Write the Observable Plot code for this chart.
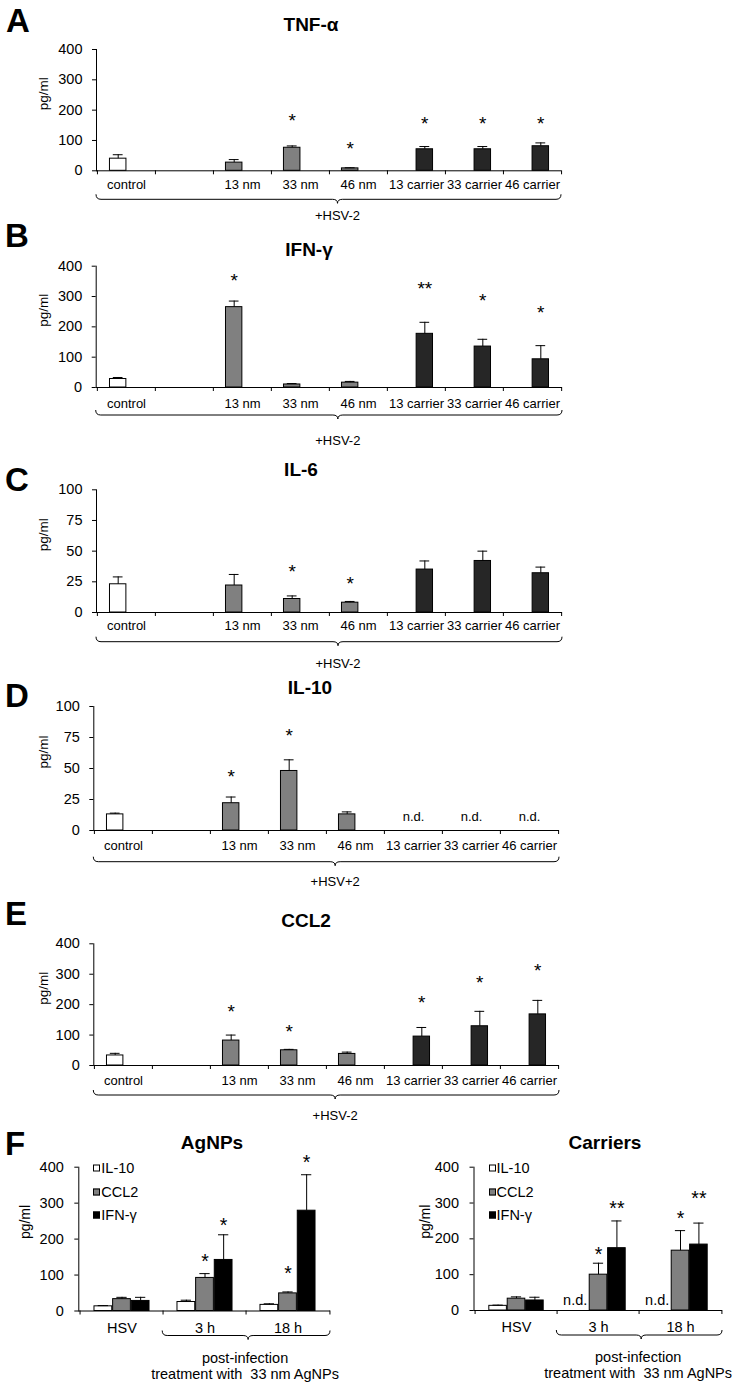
<!DOCTYPE html>
<html>
<head>
<meta charset="utf-8">
<script src="https://cdn.jsdelivr.net/npm/d3@7"></script>
<script src="https://cdn.jsdelivr.net/npm/@observablehq/plot@0.6"></script>
<style>
  html, body { margin: 0; padding: 0; background: #fff; }
  #fig { position: relative; width: 745px; height: 1386px; overflow: hidden; font-family: "Liberation Sans", Arial, Helvetica, sans-serif; color: #000; }
  .letter { font-weight: bold; font-size: 33px; line-height: 33px; }
  .title { font-weight: bold; font-size: 19px; line-height: 1.15; transform: translate(-50%, -50%); white-space: nowrap; }
  .leg { font-size: 14.5px; line-height: 1.15; white-space: nowrap; transform: translateY(-50%); }
  .swatch { width: 7px; height: 7px; border: 1px solid #000; box-sizing: border-box; transform: translateY(-50%); }
</style>
</head>
<body>
<div id="fig"></div>
<script>
// ---------- data ----------
const categories = ["control", "", "13 nm", "33 nm", "46 nm", "13 carrier", "33 carrier", "46 carrier"];
const treatment  = ["control", "none", "AgNPs", "AgNPs", "AgNPs", "carrier", "carrier", "carrier"];
const ticks400 = [0, 100, 200, 300, 400];
const ticks100 = [0, 25, 50, 75, 100];

// A: TNF-alpha
const tnfMean = [40, null, 27, 76, 8, 71, 71, 81];
const tnfErr  = [13, null, 10, 6, 2, 9, 9, 11];
const tnfSig  = ["", "", "", "*", "*", "*", "*", "*"];
const tnfSigY = [null, null, null, 182, 89, 171, 171, 171];

// B: IFN-gamma
const ifnMean = [28, null, 265, 10, 16, 177, 135, 93];
const ifnErr  = [5, null, 20, 3, 4, 38, 24, 45];
const ifnSig  = ["", "", "*", "", "", "**", "*", "*"];
const ifnSigY = [null, null, 369, null, null, 342, 303, 263];

// C: IL-6
const il6Mean = [23, null, 22, 11, 8, 35, 42, 32];
const il6Err  = [6, null, 9, 2.5, 1, 7, 8, 5];
const il6Sig  = ["", "", "", "*", "*", "", "", ""];
const il6SigY = [null, null, null, 37, 27.5, null, null, null];

// D: IL-10
const il10Mean = [13, null, 22, 48, 13, null, null, null];
const il10Err  = [1, null, 5, 9, 2, null, null, null];
const il10Sig  = ["", "", "*", "*", "", "", "", ""];
const il10SigY = [null, null, 47, 80, null, null, null, null];
const il10Nd   = ["", "", "", "", "", "n.d.", "n.d.", "n.d."];
const il10NdY  = 10.75;

// E: CCL2
const ccl2Mean = [33, null, 82, 50, 38, 95, 129, 168];
const ccl2Err  = [7, null, 18, 3, 6, 30, 49, 46];
const ccl2Sig  = ["", "", "*", "*", "", "*", "*", "*"];
const ccl2SigY = [null, null, 194, 128, null, 222, 288, 328];

// F
const fGroups = ["HSV", "3 h", "18 h"];
const fSeries = ["IL-10", "CCL2", "IFN-γ"];
// AgNPs
const agIL10 = [13, 25, 17],  agIL10Err = [2, 5, 3];
const agCCL2 = [33, 92, 49],  agCCL2Err = [5, 12, 4];
const agIFN  = [28, 142, 279], agIFNErr = [10, 70, 100];
const agCCL2Sig = ["", "*", "*"], agCCL2SigY = [null, 150, 118];
const agIFNSig  = ["", "*", "*"], agIFNSigY  = [null, 252, 426];
// Carriers
const carIL10 = [13, null, null], carIL10Err = [2, null, null];
const carCCL2 = [33, 100, 167],   carCCL2Err = [5, 32, 56];
const carIFN  = [28, 174, 184],   carIFNErr  = [9, 76, 60];
const carCCL2Sig = ["", "*", "*"],   carCCL2SigY = [null, 169, 270];
const carIFNSig  = ["", "**", "**"], carIFNSigY  = [null, 299, 326];
const carIL10Nd  = ["", "n.d.", "n.d."], carNdY = 28;

// ---------- styles ----------
const treatColors = {domain: ["control", "AgNPs", "carrier"], range: ["#ffffff", "#808080", "#262626"]};
const seriesColors = ["#ffffff", "#808080", "#000000"];
const FONT = '"Liberation Sans", Arial, Helvetica, sans-serif';
const LABEL = 13;

const fig = document.getElementById("fig");
function place(el, left, top) {
  el.style.position = "absolute";
  el.style.left = left + "px";
  el.style.top = top + "px";
  fig.appendChild(el);
  return el;
}
function addDiv(cls, text, left, top) {
  const d = document.createElement("div");
  d.className = cls;
  d.textContent = text;
  return place(d, left, top);
}
function bracePath(x0, x1, xc, y) {
  const r = 5, d = 4;
  return `M${x0},${y - r}Q${x0},${y} ${x0 + r},${y}L${xc - r},${y}Q${xc},${y} ${xc},${y + d}` +
         `Q${xc},${y} ${xc + r},${y}L${x1 - r},${y}Q${x1},${y} ${x1},${y - r}`;
}
function fixYAxisFont(plot, size) {
  d3.select(plot).selectAll('[aria-label^="y-axis"]').style("font-size", size);
  d3.select(plot).selectAll('[aria-label^="y-axis"] text').style("font-size", size);
}

function bandPanel(cfg) {
  const W = 745, H = 230;
  const {top, mL, mR, mT, mB, yMax, ticks, mean, err, sig, sigY, nd = [], ndY = 0,
         labelDy, braceDy, hsvDy, hsvText = "+HSV-2"} = cfg;
  const rows = categories.map((c, i) => ({cat: c, treat: treatment[i], mean: mean[i], err: err[i],
    sig: sig[i] || "", sigY: sigY[i], nd: nd[i] || ""}));
  const bw = (W - mL - mR) / categories.length;
  const w = bw / 3.5, cap = w * 0.6;
  const plotH = H - mT - mB;
  const marks = [];
  for (const right of [false, true]) {
    const o = right ? w / 2 : -w / 2;
    const inSlot = d => (d.treat === "carrier") === right;
    const bars = rows.filter(d => d.mean != null && inSlot(d));
    marks.push(
      Plot.barY(bars, {x: "cat", y: "mean", fill: "treat", stroke: "#000", strokeWidth: 1,
        insetLeft: bw / 2 + o - w / 2, insetRight: bw / 2 - o - w / 2}),
      Plot.ruleX(bars, {x: "cat", y1: "mean", y2: d => d.mean + d.err, dx: o, stroke: "#000", strokeWidth: 1}),
      Plot.tickY(bars, {x: "cat", y: d => d.mean + d.err, stroke: "#000", strokeWidth: 1,
        insetLeft: bw / 2 + o - cap / 2, insetRight: bw / 2 - o - cap / 2}),
      Plot.text(rows.filter(d => d.sig && inSlot(d)), {x: "cat", y: "sigY", text: "sig", dx: o, dy: 5, fontSize: 19})
    );
  }
  marks.push(
    Plot.text(rows.filter(d => d.nd), {x: "cat", y: () => ndY, text: "nd", fontSize: LABEL}),
    Plot.ruleY([0], {stroke: "#000", strokeWidth: 1}),
    Plot.ruleX(categories, {x: d => d, dx: -bw / 2, insetTop: plotH, insetBottom: -4, stroke: "#000"}),
    Plot.ruleX(categories.slice(-1), {x: d => d, dx: bw / 2, insetTop: plotH, insetBottom: -4, stroke: "#000"}),
    Plot.text(categories, {x: d => d, frameAnchor: "bottom", lineAnchor: "top", dy: labelDy, fontSize: LABEL}),
    Plot.text([null], {frameAnchor: "left", text: () => "pg/ml", rotate: -90, dx: -(mL - 43), fontSize: 13.5})
  );
  const plot = Plot.plot({
    width: W, height: H, marginLeft: mL, marginRight: mR, marginTop: mT, marginBottom: mB,
    x: {domain: categories, padding: 0, axis: null},
    y: {domain: [0, yMax], ticks, tickSize: 4, tickPadding: 10, line: true, label: null},
    color: treatColors,
    style: {background: "transparent", maxWidth: "none", overflow: "visible", fontFamily: FONT, fontSize: "14.5px", color: "#000"},
    marks
  });
  fixYAxisFont(plot, "14.5px");
  const svg = d3.select(plot);
  const x0 = mL, x1 = W - mR, xc = (x0 + x1) / 2 + 9, y0 = H - mB;
  svg.append("path").attr("d", bracePath(x0, x1, xc, y0 + braceDy))
    .attr("fill", "none").attr("stroke", "#000").attr("stroke-width", 1);
  svg.append("text").attr("x", xc).attr("y", y0 + hsvDy).attr("dy", "0.35em")
    .attr("text-anchor", "middle").attr("font-size", LABEL).attr("fill", "#000").text(hsvText);
  place(plot, 0, top);
}

function fPanel(cfg) {
  const {left, top, W, H, mL, mR, mT, mB, means, errs, sigs, sigYs, nds, ndY, pgX} = cfg;
  const bw = (W - mL - mR) / fGroups.length;
  const w = bw / 4.5, cap = w * 0.6;
  const plotH = H - mT - mB;
  const marks = [];
  fSeries.forEach((s, k) => {
    const o = (k - 1) * w;
    const rows = fGroups.map((g, i) => ({grp: g, series: s, mean: means[k][i], err: errs[k][i],
      sig: (sigs[k] || [])[i] || "", sigY: (sigYs[k] || [])[i], nd: (nds[k] || [])[i] || ""}));
    const bars = rows.filter(d => d.mean != null);
    marks.push(
      Plot.barY(bars, {x: "grp", y: "mean", fill: "series", stroke: "#000", strokeWidth: 1,
        insetLeft: bw / 2 + o - w / 2, insetRight: bw / 2 - o - w / 2}),
      Plot.ruleX(bars, {x: "grp", y1: "mean", y2: d => d.mean + d.err, dx: o, stroke: "#000", strokeWidth: 1}),
      Plot.tickY(bars, {x: "grp", y: d => d.mean + d.err, stroke: "#000", strokeWidth: 1,
        insetLeft: bw / 2 + o - cap / 2, insetRight: bw / 2 - o - cap / 2}),
      Plot.text(rows.filter(d => d.sig), {x: "grp", y: "sigY", text: "sig", dx: o, dy: 5, fontSize: 19.5}),
      Plot.text(rows.filter(d => d.nd), {x: "grp", y: () => ndY, text: "nd", dx: o + w / 2 - 2, textAnchor: "end", fontSize: 14.5})
    );
  });
  marks.push(
    Plot.ruleY([0], {stroke: "#000", strokeWidth: 1}),
    Plot.ruleX(fGroups, {x: d => d, dx: -bw / 2, insetTop: plotH, insetBottom: -4, stroke: "#000"}),
    Plot.ruleX(fGroups.slice(-1), {x: d => d, dx: bw / 2, insetTop: plotH, insetBottom: -4, stroke: "#000"}),
    Plot.text(fGroups, {x: d => d, frameAnchor: "bottom", lineAnchor: "top", dy: 11.5, fontSize: 14.5}),
    Plot.text([null], {frameAnchor: "left", text: () => "pg/ml", rotate: -90, dx: -(mL - pgX), fontSize: 14})
  );
  const plot = Plot.plot({
    width: W, height: H, marginLeft: mL, marginRight: mR, marginTop: mT, marginBottom: mB,
    x: {domain: fGroups, padding: 0, axis: null},
    y: {domain: [0, 400], ticks: ticks400, tickSize: 4, tickPadding: 11, line: true, label: null},
    color: {domain: fSeries, range: seriesColors},
    style: {background: "transparent", maxWidth: "none", overflow: "visible", fontFamily: FONT, fontSize: "14.5px", color: "#000"},
    marks
  });
  fixYAxisFont(plot, "14.5px");
  const svg = d3.select(plot);
  const y0 = H - mB;
  const x0 = mL + bw, x1 = W - mR, xc = (x0 + x1) / 2 + 2;
  svg.append("path").attr("d", bracePath(x0, x1, xc, y0 + 25))
    .attr("fill", "none").attr("stroke", "#000").attr("stroke-width", 1);
  const lines = ["post-infection", "treatment with  33 nm AgNPs"];
  lines.forEach((t, i) => {
    svg.append("text").attr("x", xc - 3).attr("y", y0 + 47 + i * 16).attr("dy", "0.35em")
      .attr("text-anchor", "middle").attr("font-size", 14.5).attr("fill", "#000")
      .style("white-space", "pre").text(t);
  });
  place(plot, left, top);
  // legend
  fSeries.forEach((s, k) => {
    const yC = top + mT + 1.3 + k * 23.6;
    const sw = document.createElement("div");
    sw.className = "swatch";
    sw.style.background = seriesColors[k];
    place(sw, left + mL + 15, yC);
    const lt = document.createElement("div");
    lt.className = "leg";
    lt.textContent = s;
    place(lt, left + mL + 23, yC);
  });
}

// ---------- panels ----------
bandPanel({top: 0, mL: 96, mR: 184, mT: 49, mB: 59.7, yMax: 400, ticks: ticks400,
  mean: tnfMean, err: tnfErr, sig: tnfSig, sigY: tnfSigY, labelDy: 9.2, braceDy: 29, hsvDy: 45});
bandPanel({top: 230, mL: 95.7, mR: 183, mT: 35.7, mB: 73, yMax: 400, ticks: ticks400,
  mean: ifnMean, err: ifnErr, sig: ifnSig, sigY: ifnSigY, labelDy: 11.2, braceDy: 28, hsvDy: 53});
bandPanel({top: 460, mL: 96, mR: 183, mT: 29.3, mB: 78, yMax: 100, ticks: ticks100,
  mean: il6Mean, err: il6Err, sig: il6Sig, sigY: il6SigY, labelDy: 8.5, braceDy: 29.7, hsvDy: 51});
bandPanel({top: 690, mL: 93.3, mR: 186, mT: 16, mB: 90, yMax: 100, ticks: ticks100,
  mean: il10Mean, err: il10Err, sig: il10Sig, sigY: il10SigY, nd: il10Nd, ndY: il10NdY,
  labelDy: 10.5, braceDy: 31.7, hsvDy: 51.7, hsvText: "+HSV+2"});
bandPanel({top: 920, mL: 93.3, mR: 186, mT: 23.3, mB: 85, yMax: 400, ticks: ticks400,
  mean: ccl2Mean, err: ccl2Err, sig: ccl2Sig, sigY: ccl2SigY, labelDy: 10.5, braceDy: 30, hsvDy: 50});

fPanel({left: 0, top: 1150, W: 372, H: 236, mL: 78.3, mR: 42, mT: 16.7, mB: 75.5, pgX: 25,
  means: [agIL10, agCCL2, agIFN], errs: [agIL10Err, agCCL2Err, agIFNErr],
  sigs: [[], agCCL2Sig, agIFNSig], sigYs: [[], agCCL2SigY, agIFNSigY], nds: [], ndY: 0});
fPanel({left: 372, top: 1150, W: 373, H: 236, mL: 101.5, mR: 23, mT: 16.7, mB: 76, pgX: 53,
  means: [carIL10, carCCL2, carIFN], errs: [carIL10Err, carCCL2Err, carIFNErr],
  sigs: [[], carCCL2Sig, carIFNSig], sigYs: [[], carCCL2SigY, carIFNSigY], nds: [carIL10Nd], ndY: carNdY});

// ---------- titles & panel letters ----------
[["TNF-α", 311, 25], ["IFN-γ", 309, 250], ["IL-6", 301, 470], ["IL-10", 310, 688],
 ["CCL2", 306, 921], ["AgNPs", 212, 1143], ["Carriers", 605, 1143]]
  .forEach(([t, x, y]) => addDiv("title", t, x, y));
[["A", 6, 8], ["B", 5, 223], ["C", 5, 467], ["D", 5, 683], ["E", 5, 901], ["F", 5, 1131]]
  .forEach(([t, x, capTop]) => addDiv("letter", t, x, capTop - 4.3));
</script>
</body>
</html>
